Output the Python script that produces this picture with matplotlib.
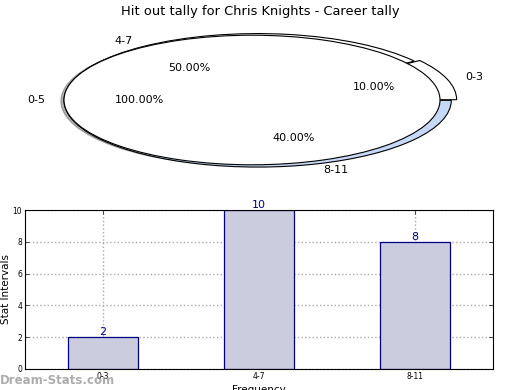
import matplotlib
matplotlib.use("Agg")
import matplotlib.pyplot as plt

# pie data
full_label = ["0-5"]
full_value = [1]
pie_labels = ["0-3", "4-7", "8-11"]
pie_values = [2, 10, 8]
pie_colors = ["white", "white", "#c6d9f8"]

# bar data
bar_labels = ["0-3", "4-7", "8-11"]
bar_values = [2, 10, 8]

fig = plt.figure(figsize=(5.2, 3.9), dpi=100)

# top: squashed pie chart
ax1 = fig.add_axes([17 / 520, 1 - 181 / 390, 470 / 520, 162 / 390])
ax1.pie(pie_values, labels=pie_labels, colors=pie_colors, explode=[0.03, 0, 0],
        autopct="%.2f%%", pctdistance=0.6, labeldistance=1.1, radius=1.03,
        center=(0.03, -0.005), startangle=0, counterclock=True,
        wedgeprops=dict(edgecolor="black", linewidth=0.8),
        textprops=dict(fontsize=8))
ax1.pie(full_value, labels=full_label, colors=["white"], autopct="%.2f%%",
        pctdistance=0.6, labeldistance=1.1,
        shadow=dict(ox=-0.012, oy=-0.012, shade=0.6),
        wedgeprops=dict(edgecolor="black", linewidth=0.8),
        textprops=dict(fontsize=8))
ax1.set_aspect("auto")
ax1.set_xlim(-1.25, 1.25)
ax1.set_ylim(-1.25, 1.25)
fig.text(0.5, 1 - 11 / 390, "Hit out tally for Chris Knights - Career tally",
         ha="center", va="center", fontsize=9.4)

# bottom: bar chart
ax2 = fig.add_axes([25 / 520, 1 - 369 / 390, 468 / 520, 159 / 390])
x = list(range(len(bar_values)))
ax2.bar(x, bar_values, width=0.45, color="#ccccdf", edgecolor="navy", linewidth=0.9, zorder=2)
for xi, v in zip(x, bar_values):
    ax2.text(xi, v, str(v), ha="center", va="bottom", color="navy", fontsize=8)
ax2.set_xlim(-0.5, 2.5)
ax2.set_ylim(0, 10)
ax2.set_xticks(x)
ax2.set_xticklabels(bar_labels, fontsize=5.5)
ax2.set_yticks(range(0, 11, 2))
ax2.tick_params(axis="y", labelsize=5.5)
ax2.tick_params(direction="in", top=True, right=True, length=3, width=0.5, pad=2)
ax2.grid(True, linestyle=":", color="#aaaaaa", linewidth=1, zorder=0)
ax2.set_axisbelow(True)
ax2.set_ylabel("Stat Intervals", fontsize=7.5, labelpad=1)
ax2.set_xlabel("Frequency", fontsize=7.5, labelpad=3)
for s in ax2.spines.values():
    s.set_linewidth(0.8)

fig.text(0, 1 - 381 / 390, "Dream-Stats.com", ha="left", va="center",
         fontsize=8.5, fontweight="bold", color="#999999", alpha=0.8)

fig.savefig("out.png", dpi=100)
